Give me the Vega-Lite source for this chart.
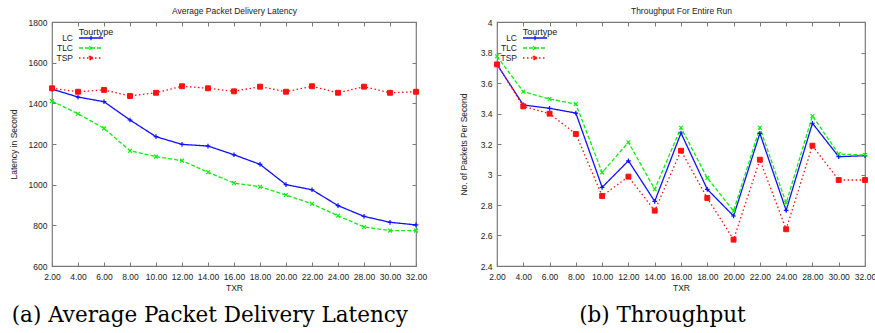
{
  "$schema": "https://vega.github.io/schema/vega-lite/v6.json",
  "padding": {"left": 8, "top": 5, "right": 0, "bottom": 0},
  "spacing": 30,
  "background": "white",
  "config": {
    "font": "Liberation Sans",
    "view": {"stroke": "#7a7a7a", "strokeWidth": 1.2},
    "axis": {
      "domain": false, "grid": false,
      "labelFontSize": 8.5, "labelColor": "#222", "labelFont": "Liberation Sans",
      "titleFontSize": 8.5, "titleFontWeight": "normal", "titleColor": "#222", "titleFont": "Liberation Sans",
      "tickColor": "#7a7a7a", "tickSize": -4, "tickWidth": 1
    },
    "legend": {
      "titleFontSize": 9, "titleFontWeight": "normal", "titleColor": "#222", "titleFont": "Liberation Sans",
      "labelFontSize": 8.5, "labelColor": "#222", "labelFont": "Liberation Sans",
      "symbolType": "M-3,0L3,0", "symbolSize": 64, "symbolStrokeWidth": 1.3,
      "rowPadding": -6, "padding": 0, "titlePadding": -4, "labelAlign": "right", "labelOffset": -23, "titleAnchor": "middle"
    }
  },
  "datasets": {
    "latency": [
      {"txr": 2, "tourtype": "LC", "value": 1470}, {"txr": 4, "tourtype": "LC", "value": 1431}, {"txr": 6, "tourtype": "LC", "value": 1408},
      {"txr": 8, "tourtype": "LC", "value": 1318}, {"txr": 10, "tourtype": "LC", "value": 1236}, {"txr": 12, "tourtype": "LC", "value": 1198},
      {"txr": 14, "tourtype": "LC", "value": 1190}, {"txr": 16, "tourtype": "LC", "value": 1147}, {"txr": 18, "tourtype": "LC", "value": 1100},
      {"txr": 20, "tourtype": "LC", "value": 1000}, {"txr": 22, "tourtype": "LC", "value": 975}, {"txr": 24, "tourtype": "LC", "value": 897},
      {"txr": 28, "tourtype": "LC", "value": 844}, {"txr": 30, "tourtype": "LC", "value": 815}, {"txr": 32, "tourtype": "LC", "value": 802},
      {"txr": 2, "tourtype": "TLC", "value": 1411}, {"txr": 4, "tourtype": "TLC", "value": 1349}, {"txr": 6, "tourtype": "TLC", "value": 1277},
      {"txr": 8, "tourtype": "TLC", "value": 1167}, {"txr": 10, "tourtype": "TLC", "value": 1138}, {"txr": 12, "tourtype": "TLC", "value": 1118},
      {"txr": 14, "tourtype": "TLC", "value": 1061}, {"txr": 16, "tourtype": "TLC", "value": 1008}, {"txr": 18, "tourtype": "TLC", "value": 990},
      {"txr": 20, "tourtype": "TLC", "value": 949}, {"txr": 22, "tourtype": "TLC", "value": 906}, {"txr": 24, "tourtype": "TLC", "value": 847},
      {"txr": 28, "tourtype": "TLC", "value": 792}, {"txr": 30, "tourtype": "TLC", "value": 774}, {"txr": 32, "tourtype": "TLC", "value": 774},
      {"txr": 2, "tourtype": "TSP", "value": 1474}, {"txr": 4, "tourtype": "TSP", "value": 1457}, {"txr": 6, "tourtype": "TSP", "value": 1466},
      {"txr": 8, "tourtype": "TSP", "value": 1436}, {"txr": 10, "tourtype": "TSP", "value": 1452}, {"txr": 12, "tourtype": "TSP", "value": 1484},
      {"txr": 14, "tourtype": "TSP", "value": 1474}, {"txr": 16, "tourtype": "TSP", "value": 1459}, {"txr": 18, "tourtype": "TSP", "value": 1482},
      {"txr": 20, "tourtype": "TSP", "value": 1457}, {"txr": 22, "tourtype": "TSP", "value": 1484}, {"txr": 24, "tourtype": "TSP", "value": 1452},
      {"txr": 28, "tourtype": "TSP", "value": 1482}, {"txr": 30, "tourtype": "TSP", "value": 1452}, {"txr": 32, "tourtype": "TSP", "value": 1457}
    ],
    "throughput": [
      {"txr": 2, "tourtype": "LC", "value": 3.722}, {"txr": 4, "tourtype": "LC", "value": 3.456}, {"txr": 6, "tourtype": "LC", "value": 3.434},
      {"txr": 8, "tourtype": "LC", "value": 3.403}, {"txr": 10, "tourtype": "LC", "value": 2.916}, {"txr": 12, "tourtype": "LC", "value": 3.09},
      {"txr": 14, "tourtype": "LC", "value": 2.824}, {"txr": 16, "tourtype": "LC", "value": 3.272}, {"txr": 18, "tourtype": "LC", "value": 2.903},
      {"txr": 20, "tourtype": "LC", "value": 2.728}, {"txr": 22, "tourtype": "LC", "value": 3.27}, {"txr": 24, "tourtype": "LC", "value": 2.765},
      {"txr": 28, "tourtype": "LC", "value": 3.336}, {"txr": 30, "tourtype": "LC", "value": 3.117}, {"txr": 32, "tourtype": "LC", "value": 3.123},
      {"txr": 2, "tourtype": "TLC", "value": 3.775}, {"txr": 4, "tourtype": "TLC", "value": 3.543}, {"txr": 6, "tourtype": "TLC", "value": 3.495},
      {"txr": 8, "tourtype": "TLC", "value": 3.462}, {"txr": 10, "tourtype": "TLC", "value": 3.014}, {"txr": 12, "tourtype": "TLC", "value": 3.211},
      {"txr": 14, "tourtype": "TLC", "value": 2.903}, {"txr": 16, "tourtype": "TLC", "value": 3.307}, {"txr": 18, "tourtype": "TLC", "value": 2.977},
      {"txr": 20, "tourtype": "TLC", "value": 2.761}, {"txr": 22, "tourtype": "TLC", "value": 3.307}, {"txr": 24, "tourtype": "TLC", "value": 2.813},
      {"txr": 28, "tourtype": "TLC", "value": 3.384}, {"txr": 30, "tourtype": "TLC", "value": 3.134}, {"txr": 32, "tourtype": "TLC", "value": 3.128},
      {"txr": 2, "tourtype": "TSP", "value": 3.722}, {"txr": 4, "tourtype": "TSP", "value": 3.447}, {"txr": 6, "tourtype": "TSP", "value": 3.399},
      {"txr": 8, "tourtype": "TSP", "value": 3.266}, {"txr": 10, "tourtype": "TSP", "value": 2.859}, {"txr": 12, "tourtype": "TSP", "value": 2.986},
      {"txr": 14, "tourtype": "TSP", "value": 2.763}, {"txr": 16, "tourtype": "TSP", "value": 3.156}, {"txr": 18, "tourtype": "TSP", "value": 2.846},
      {"txr": 20, "tourtype": "TSP", "value": 2.573}, {"txr": 22, "tourtype": "TSP", "value": 3.097}, {"txr": 24, "tourtype": "TSP", "value": 2.641},
      {"txr": 28, "tourtype": "TSP", "value": 3.189}, {"txr": 30, "tourtype": "TSP", "value": 2.964}, {"txr": 32, "tourtype": "TSP", "value": 2.964}
    ]
  },
  "hconcat": [
    {
      "width": 364, "height": 244,
      "data": {"name": "latency"},
      "title": {"text": "(a) Average Packet Delivery Latency", "orient": "bottom", "anchor": "middle", "frame": "bounds", "font": "DejaVu Serif", "fontSize": 21.5, "fontWeight": "normal", "color": "#000", "offset": 13, "dx": -8},
      "layer": [
        {
          "mark": {"type": "line", "strokeWidth": 1.3},
          "encoding": {
            "x": {"field": "txr", "type": "ordinal", "scale": {"type": "point", "padding": 0, "domain": [2, 4, 6, 8, 10, 12, 14, 16, 18, 20, 22, 24, 28, 30, 32]},
                  "axis": {"orient": "bottom", "title": "TXR", "labelAngle": 0, "labelExpr": "format(datum.value, '.2f')", "labelPadding": 10, "titlePadding": 3}},
            "y": {"field": "value", "type": "quantitative", "scale": {"domain": [600, 1800], "nice": false, "zero": false},
                  "axis": {"orient": "left", "title": "Latency in Second", "values": [600, 800, 1000, 1200, 1400, 1600, 1800], "format": "d", "labelPadding": 9, "titlePadding": 10}},
            "color": {"field": "tourtype", "type": "nominal", "scale": {"domain": ["LC", "TLC", "TSP"], "range": ["#1010ff", "#11ee11", "#ff1111"]},
                      "legend": {"title": "Tourtype", "orient": "none", "legendX": 27, "legendY": 6,
                                 "encode": {"symbols": {"update": {
                                   "shape": {"signal": "datum.value === 'LC' ? 'M-3,0L3,0M0,-0.55L0,0.55' : datum.value === 'TLC' ? 'M-3,0L3,0M-0.45,-0.45L0.45,0.45M-0.45,0.45L0.45,-0.45' : 'M-3,0L3,0M-0.4,-0.4H0.4V0.4H-0.4Z'"},
                                   "fill": {"signal": "datum.value === 'TSP' ? '#ff1111' : 'transparent'"}}}}}},
            "strokeDash": {"field": "tourtype", "type": "nominal", "scale": {"domain": ["LC", "TLC", "TSP"], "range": [[1, 0], [4, 2], [1.5, 2.5]]},
                      "legend": {"title": "Tourtype", "orient": "none", "legendX": 27, "legendY": 6,
                                 "encode": {"symbols": {"update": {
                                   "shape": {"signal": "datum.value === 'LC' ? 'M-3,0L3,0M0,-0.55L0,0.55' : datum.value === 'TLC' ? 'M-3,0L3,0M-0.45,-0.45L0.45,0.45M-0.45,0.45L0.45,-0.45' : 'M-3,0L3,0M-0.4,-0.4H0.4V0.4H-0.4Z'"},
                                   "fill": {"signal": "datum.value === 'TSP' ? '#ff1111' : 'transparent'"}}}}}}
          }
        },
        {
          "transform": [{"filter": "datum.tourtype === 'LC'"}],
          "mark": {"type": "point", "shape": "M-1,0L1,0M0,-1L0,1", "size": 22, "filled": false, "stroke": "#1010ff", "strokeWidth": 1.2, "opacity": 1},
          "encoding": {
            "x": {"field": "txr", "type": "ordinal", "axis": {"orient": "top", "title": "Average Packet Delivery Latency", "labels": false, "titlePadding": 6}},
            "y": {"field": "value", "type": "quantitative", "axis": {"orient": "right", "title": null, "labels": false, "values": [600, 800, 1000, 1200, 1400, 1600, 1800]}}
          }
        },
        {
          "transform": [{"filter": "datum.tourtype === 'TLC'"}],
          "mark": {"type": "point", "shape": "M-0.8,-0.8L0.8,0.8M-0.8,0.8L0.8,-0.8", "size": 22, "filled": false, "stroke": "#11ee11", "strokeWidth": 1.2, "opacity": 1},
          "encoding": {
            "x": {"field": "txr", "type": "ordinal", "axis": null},
            "y": {"field": "value", "type": "quantitative", "axis": null}
          }
        },
        {
          "transform": [{"filter": "datum.tourtype === 'TSP'"}],
          "mark": {"type": "point", "shape": "square", "size": 24, "filled": true, "color": "#ff1111", "stroke": "#ff1111", "strokeWidth": 1, "opacity": 1},
          "encoding": {
            "x": {"field": "txr", "type": "ordinal", "axis": null},
            "y": {"field": "value", "type": "quantitative", "axis": null}
          }
        }
      ]
    },
    {
      "width": 368, "height": 244,
      "data": {"name": "throughput"},
      "title": {"text": "(b) Throughput", "orient": "bottom", "anchor": "middle", "frame": "bounds", "font": "DejaVu Serif", "fontSize": 21.5, "fontWeight": "normal", "color": "#000", "offset": 13, "dx": -5},
      "layer": [
        {
          "mark": {"type": "line", "strokeWidth": 1.3},
          "encoding": {
            "x": {"field": "txr", "type": "ordinal", "scale": {"type": "point", "padding": 0, "domain": [2, 4, 6, 8, 10, 12, 14, 16, 18, 20, 22, 24, 28, 30, 32]},
                  "axis": {"orient": "bottom", "title": "TXR", "labelAngle": 0, "labelExpr": "format(datum.value, '.2f')", "labelPadding": 10, "titlePadding": 3}},
            "y": {"field": "value", "type": "quantitative", "scale": {"domain": [2.4, 4], "nice": false, "zero": false},
                  "axis": {"orient": "left", "title": "No. of Packets Per Second", "values": [2.4, 2.6, 2.8, 3, 3.2, 3.4, 3.6, 3.8, 4], "format": ".1~f", "labelPadding": 9, "titlePadding": 12}},
            "color": {"field": "tourtype", "type": "nominal", "scale": {"domain": ["LC", "TLC", "TSP"], "range": ["#1010ff", "#11ee11", "#ff1111"]},
                      "legend": {"title": "Tourtype", "orient": "none", "legendX": 26, "legendY": 6,
                                 "encode": {"symbols": {"update": {
                                   "shape": {"signal": "datum.value === 'LC' ? 'M-3,0L3,0M0,-0.55L0,0.55' : datum.value === 'TLC' ? 'M-3,0L3,0M-0.45,-0.45L0.45,0.45M-0.45,0.45L0.45,-0.45' : 'M-3,0L3,0M-0.4,-0.4H0.4V0.4H-0.4Z'"},
                                   "fill": {"signal": "datum.value === 'TSP' ? '#ff1111' : 'transparent'"}}}}}},
            "strokeDash": {"field": "tourtype", "type": "nominal", "scale": {"domain": ["LC", "TLC", "TSP"], "range": [[1, 0], [4, 2], [1.5, 2.5]]},
                      "legend": {"title": "Tourtype", "orient": "none", "legendX": 26, "legendY": 6,
                                 "encode": {"symbols": {"update": {
                                   "shape": {"signal": "datum.value === 'LC' ? 'M-3,0L3,0M0,-0.55L0,0.55' : datum.value === 'TLC' ? 'M-3,0L3,0M-0.45,-0.45L0.45,0.45M-0.45,0.45L0.45,-0.45' : 'M-3,0L3,0M-0.4,-0.4H0.4V0.4H-0.4Z'"},
                                   "fill": {"signal": "datum.value === 'TSP' ? '#ff1111' : 'transparent'"}}}}}}
          }
        },
        {
          "transform": [{"filter": "datum.tourtype === 'LC'"}],
          "mark": {"type": "point", "shape": "M-1,0L1,0M0,-1L0,1", "size": 22, "filled": false, "stroke": "#1010ff", "strokeWidth": 1.2, "opacity": 1},
          "encoding": {
            "x": {"field": "txr", "type": "ordinal", "axis": {"orient": "top", "title": "Throughput For Entire Run", "labels": false, "titlePadding": 6}},
            "y": {"field": "value", "type": "quantitative", "axis": {"orient": "right", "title": null, "labels": false, "values": [2.4, 2.6, 2.8, 3, 3.2, 3.4, 3.6, 3.8, 4]}}
          }
        },
        {
          "transform": [{"filter": "datum.tourtype === 'TLC'"}],
          "mark": {"type": "point", "shape": "M-0.8,-0.8L0.8,0.8M-0.8,0.8L0.8,-0.8", "size": 22, "filled": false, "stroke": "#11ee11", "strokeWidth": 1.2, "opacity": 1},
          "encoding": {
            "x": {"field": "txr", "type": "ordinal", "axis": null},
            "y": {"field": "value", "type": "quantitative", "axis": null}
          }
        },
        {
          "transform": [{"filter": "datum.tourtype === 'TSP'"}],
          "mark": {"type": "point", "shape": "square", "size": 24, "filled": true, "color": "#ff1111", "stroke": "#ff1111", "strokeWidth": 1, "opacity": 1},
          "encoding": {
            "x": {"field": "txr", "type": "ordinal", "axis": null},
            "y": {"field": "value", "type": "quantitative", "axis": null}
          }
        }
      ]
    }
  ],
  "resolve": {"scale": {"color": "independent", "strokeDash": "independent"}, "legend": {"color": "independent", "strokeDash": "independent"}}
}
